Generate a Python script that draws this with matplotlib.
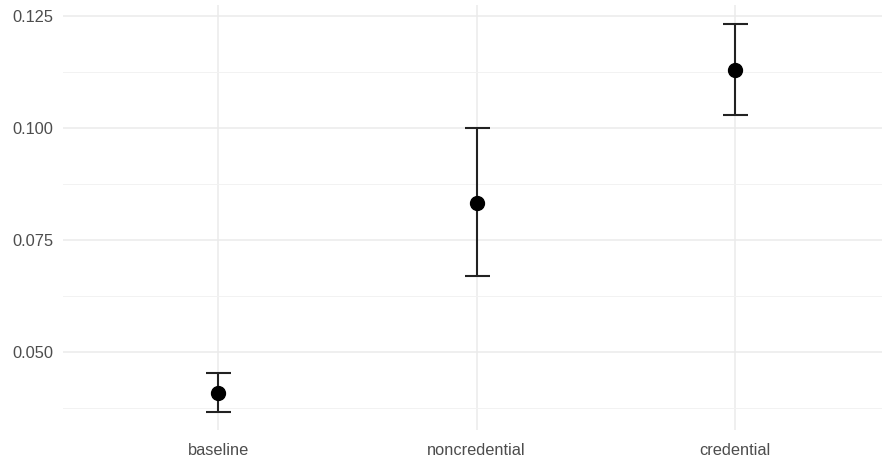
import matplotlib.pyplot as plt
from matplotlib.ticker import MultipleLocator, FixedLocator

plt.rcParams['font.family'] = ['Liberation Sans', 'DejaVu Sans']

# estimates
groups = ['baseline', 'noncredential', 'credential']
means = [0.0408, 0.0833, 0.1129]
lower = [0.0366, 0.0670, 0.1029]
upper = [0.0453, 0.1000, 0.1232]

W, H = 882, 465
fig = plt.figure(figsize=(W / 100, H / 100), dpi=100)
ax = fig.add_axes([63 / W, 1 - 430 / H, (W - 63) / W, 425 / H])

x = list(range(1, len(groups) + 1))
yerr = [[m - lo for m, lo in zip(means, lower)], [hi - m for m, hi in zip(means, upper)]]

ax.errorbar(x, means, yerr=yerr, fmt='o', color='black', ecolor='#222222',
            elinewidth=1.5, capsize=9, capthick=1.5, markersize=10, zorder=3)

ax.set_xlim(0.4, 0.4 + (W - 63) / 258.5)
ax.set_ylim(0.0326, 0.1275)

ax.xaxis.set_major_locator(FixedLocator(x))
ax.set_xticklabels(groups)
ax.yaxis.set_major_locator(MultipleLocator(0.025))
ax.yaxis.set_minor_locator(MultipleLocator(0.0125))
ax.yaxis.set_major_formatter(plt.FuncFormatter(lambda v, p: f'{v:.3f}'))

ax.grid(True, which='major', color='#EBEBEB', linewidth=1.1)
ax.grid(True, which='minor', axis='y', color='#F2F2F2', linewidth=0.7)
ax.set_axisbelow(True)

for s in ax.spines.values():
    s.set_visible(False)
ax.tick_params(axis='both', which='both', length=0, labelsize=11.8, labelcolor='#4D4D4D')
ax.tick_params(axis='y', pad=7)
ax.tick_params(axis='x', pad=9)

fig.savefig('out.png', dpi=100)
